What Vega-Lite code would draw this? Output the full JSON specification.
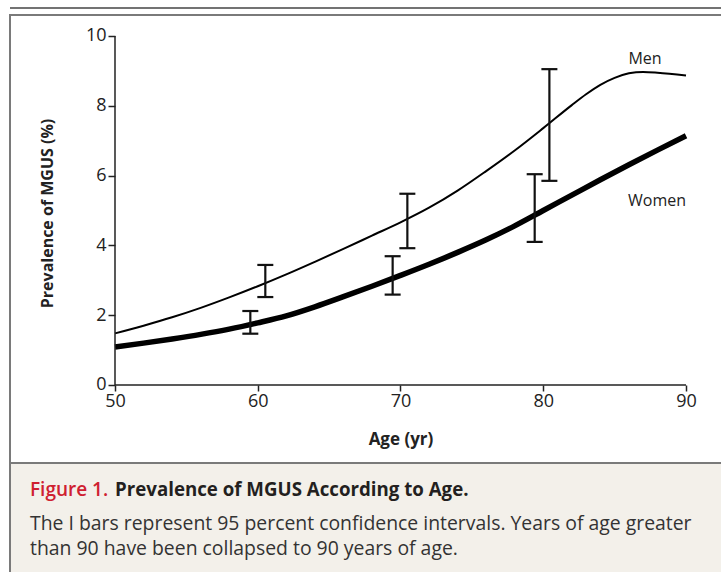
{
  "$schema": "https://vega.github.io/schema/vega-lite/v6.json",
  "padding": {"left": 8, "top": 6, "right": 0, "bottom": 0},
  "background": "white",
  "bounds": "flush",
  "spacing": 0,
  "config": {
    "font": "Open Sans",
    "view": {"stroke": "#7a7a7a", "strokeWidth": 2},
    "axis": {"labelFontSize": 18, "labelColor": "#222", "labelFont": "Open Sans", "titleFont": "Open Sans", "titleFontSize": 16, "titleFontWeight": "bold", "titleColor": "#222", "tickColor": "#222", "tickWidth": 1.5}
  },
  "datasets": {
    "curves": [
      {"sex": "Men", "age": 50, "value": 1.48},
      {"sex": "Men", "age": 52, "value": 1.7},
      {"sex": "Men", "age": 54, "value": 1.94},
      {"sex": "Men", "age": 56, "value": 2.21},
      {"sex": "Men", "age": 58, "value": 2.51},
      {"sex": "Men", "age": 60, "value": 2.83},
      {"sex": "Men", "age": 62, "value": 3.17},
      {"sex": "Men", "age": 64, "value": 3.53},
      {"sex": "Men", "age": 66, "value": 3.9},
      {"sex": "Men", "age": 68, "value": 4.28},
      {"sex": "Men", "age": 70, "value": 4.66},
      {"sex": "Men", "age": 72, "value": 5.08},
      {"sex": "Men", "age": 74, "value": 5.57},
      {"sex": "Men", "age": 76, "value": 6.13},
      {"sex": "Men", "age": 78, "value": 6.72},
      {"sex": "Men", "age": 80, "value": 7.36},
      {"sex": "Men", "age": 82, "value": 8.02},
      {"sex": "Men", "age": 83, "value": 8.33},
      {"sex": "Men", "age": 84, "value": 8.6},
      {"sex": "Men", "age": 85, "value": 8.8},
      {"sex": "Men", "age": 86, "value": 8.93},
      {"sex": "Men", "age": 87, "value": 8.97},
      {"sex": "Men", "age": 88, "value": 8.95},
      {"sex": "Men", "age": 90, "value": 8.87},
      {"sex": "Women", "age": 50, "value": 1.09},
      {"sex": "Women", "age": 52, "value": 1.2},
      {"sex": "Women", "age": 54, "value": 1.32},
      {"sex": "Women", "age": 56, "value": 1.45},
      {"sex": "Women", "age": 58, "value": 1.6},
      {"sex": "Women", "age": 60, "value": 1.78},
      {"sex": "Women", "age": 62, "value": 1.98},
      {"sex": "Women", "age": 64, "value": 2.24},
      {"sex": "Women", "age": 66, "value": 2.53},
      {"sex": "Women", "age": 68, "value": 2.83},
      {"sex": "Women", "age": 70, "value": 3.14},
      {"sex": "Women", "age": 72, "value": 3.46},
      {"sex": "Women", "age": 74, "value": 3.8},
      {"sex": "Women", "age": 76, "value": 4.16},
      {"sex": "Women", "age": 78, "value": 4.56},
      {"sex": "Women", "age": 80, "value": 5.0},
      {"sex": "Women", "age": 82, "value": 5.44},
      {"sex": "Women", "age": 84, "value": 5.88},
      {"sex": "Women", "age": 86, "value": 6.31},
      {"sex": "Women", "age": 88, "value": 6.73},
      {"sex": "Women", "age": 90, "value": 7.14}
    ],
    "ci": [
      {"sex": "Men", "age": 60.53, "lo": 2.52, "hi": 3.44},
      {"sex": "Men", "age": 70.48, "lo": 3.92, "hi": 5.48},
      {"sex": "Men", "age": 80.43, "lo": 5.85, "hi": 9.05},
      {"sex": "Women", "age": 59.48, "lo": 1.47, "hi": 2.12},
      {"sex": "Women", "age": 69.45, "lo": 2.59, "hi": 3.69},
      {"sex": "Women", "age": 79.4, "lo": 4.1, "hi": 6.04}
    ],
    "labels": [
      {"age": 87.13, "value": 9.34, "label": "Men"},
      {"age": 87.97, "value": 5.27, "label": "Women"}
    ],
    "caption": [
      {"line": 2, "text": "The I bars represent 95 percent confidence intervals. Years of age greater"},
      {"line": 3, "text": "than 90 have been collapsed to 90 years of age."}
    ]
  },
  "vconcat": [
    {
      "width": 714,
      "height": 448,
      "view": {"stroke": "#7a7a7a", "strokeWidth": 2},
      "layer": [
        {
          "data": {"name": "curves"},
          "mark": {"type": "line", "interpolate": "monotone", "color": "#000000"},
          "encoding": {
            "x": {
              "field": "age", "type": "quantitative",
              "scale": {"domain": [42.6445, 92.662], "nice": false, "zero": false},
              "axis": {
                "values": [50, 60, 70, 80, 90], "offset": -78, "domain": false, "grid": false,
                "tickSize": 6, "labelFontSize": 18, "labelPadding": 1,
                "title": "Age (yr)", "titleFontSize": 17,
                "titleX": 390.5, "titleY": 54, "titleBaseline": "middle", "titleAlign": "center"
              }
            },
            "y": {
              "field": "value", "type": "quantitative",
              "scale": {"domain": [-2.235, 10.6017], "nice": false, "zero": false},
              "axis": {
                "values": [0, 2, 4, 6, 8, 10], "offset": -105, "domain": false, "grid": false,
                "tickSize": 7, "labelFontSize": 18, "labelPadding": 2,
                "title": "Prevalence of MGUS (%)", "titleFontSize": 16,
                "titleX": -68, "titleY": 198, "titleBaseline": "middle", "titleAlign": "center", "titleAngle": -90
              }
            },
            "strokeWidth": {
              "field": "sex", "type": "nominal",
              "scale": {"domain": ["Men", "Women"], "range": [2, 5.5]},
              "legend": null
            }
          }
        },
        {
          "data": {"values": [{}]},
          "mark": {"type": "rule", "color": "#222", "strokeWidth": 1.5},
          "encoding": {"x": {"datum": 50}, "y": {"datum": 0}, "y2": {"datum": 10}}
        },
        {
          "data": {"values": [{}]},
          "mark": {"type": "rule", "color": "#222", "strokeWidth": 1.5},
          "encoding": {"x": {"datum": 50}, "x2": {"datum": 90}, "y": {"datum": 0}}
        },
        {
          "data": {"values": [{}]},
          "mark": {"type": "rule", "color": "#444", "strokeWidth": 1.5},
          "encoding": {"x": {"datum": 42.6445}, "x2": {"datum": 92.662}, "y": {"datum": 10.8023}}
        },
        {
          "data": {"name": "ci"},
          "mark": {"type": "rule", "color": "#111", "strokeWidth": 2.2},
          "encoding": {
            "x": {"field": "age", "type": "quantitative"},
            "y": {"field": "lo", "type": "quantitative"},
            "y2": {"field": "hi"}
          }
        },
        {
          "data": {"name": "ci"},
          "mark": {"type": "tick", "orient": "horizontal", "size": 16, "thickness": 2.2, "color": "#111", "opacity": 1},
          "encoding": {
            "x": {"field": "age", "type": "quantitative"},
            "y": {"field": "lo", "type": "quantitative"}
          }
        },
        {
          "data": {"name": "ci"},
          "mark": {"type": "tick", "orient": "horizontal", "size": 16, "thickness": 2.2, "color": "#111", "opacity": 1},
          "encoding": {
            "x": {"field": "age", "type": "quantitative"},
            "y": {"field": "hi", "type": "quantitative"}
          }
        },
        {
          "data": {"name": "labels"},
          "mark": {"type": "text", "fontSize": 16, "color": "#222", "align": "center", "baseline": "middle"},
          "encoding": {
            "x": {"field": "age", "type": "quantitative"},
            "y": {"field": "value", "type": "quantitative"},
            "text": {"field": "label"}
          }
        }
      ]
    },
    {
      "width": 714,
      "height": 110,
      "view": {"fill": "#f3f0ea", "stroke": "#7a7a7a", "strokeWidth": 2},
      "layer": [
        {
          "data": {"values": [{"line": 1, "text": "Figure 1."}]},
          "mark": {"type": "text", "align": "left", "baseline": "middle", "dx": 20, "dy": -10, "fontSize": 19, "fontWeight": 600, "color": "#cf2030"},
          "encoding": {
            "x": {"datum": 0, "scale": {"domain": [0, 1]}, "axis": null},
            "y": {"field": "line", "type": "quantitative", "scale": {"domain": [-0.1, 3.83], "reverse": true}, "axis": null},
            "text": {"field": "text"}
          }
        },
        {
          "data": {"values": [{"line": 1, "text": "Prevalence of MGUS According to Age."}]},
          "mark": {"type": "text", "align": "left", "baseline": "middle", "dx": 105, "dy": -10, "fontSize": 18.7, "fontWeight": "bold", "color": "#231f20"},
          "encoding": {
            "x": {"datum": 0},
            "y": {"field": "line", "type": "quantitative"},
            "text": {"field": "text"}
          }
        },
        {
          "data": {"name": "caption"},
          "mark": {"type": "text", "align": "left", "baseline": "middle", "dx": 20, "fontSize": 19.4, "color": "#333"},
          "encoding": {
            "x": {"datum": 0},
            "y": {"field": "line", "type": "quantitative"},
            "text": {"field": "text"}
          }
        }
      ]
    }
  ]
}
